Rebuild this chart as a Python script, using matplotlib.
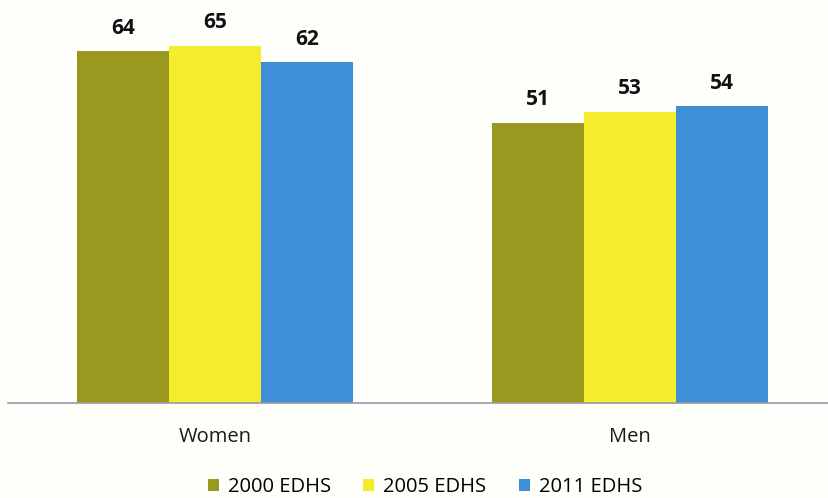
import matplotlib
matplotlib.use("Agg")
import matplotlib.pyplot as plt
from matplotlib.patches import Patch
import numpy as np

categories = ["Women", "Men"]
series_names = ["2000 EDHS", "2005 EDHS", "2011 EDHS"]
values_2000 = [64, 51]
values_2005 = [65, 53]
values_2011 = [62, 54]
series_values = [values_2000, values_2005, values_2011]
colors = ["#9a981f", "#f5ec2c", "#3d8fd7"]

plt.rcParams["font.family"] = ["Open Sans", "DejaVu Sans"]

fig = plt.figure(figsize=(8.29, 4.98), dpi=100, facecolor="#fefefb")
ax = fig.add_axes([8 / 829, 95 / 498, 1 - 8 / 829, 403 / 498])
ax.set_facecolor("#fefefb")

x = np.arange(len(categories))
width = 0.2217
for i, (vals, col) in enumerate(zip(series_values, colors)):
    pos = x + (i - 1) * width
    bars = ax.bar(pos, vals, width=width, color=col, edgecolor="none", zorder=2)
    for b, v in zip(bars, vals):
        ax.annotate(f"{v}", (b.get_x() + b.get_width() / 2, v),
                    xytext=(0, 9), textcoords="offset points",
                    ha="center", va="bottom", fontsize=15, fontweight="bold",
                    color="#111111")

ax.set_xlim(-0.499, 1.48)
ax.set_ylim(0, 73.3)
ax.set_yticks([])
ax.set_xticks(x)
ax.set_xticklabels(categories, fontsize=14.5, color="#1a1a1a")
ax.tick_params(axis="x", length=0, pad=17)
for s in ["top", "right", "left"]:
    ax.spines[s].set_visible(False)
ax.spines["bottom"].set_color("#9a9aa8")
ax.spines["bottom"].set_linewidth(1.2)

handles = [Patch(facecolor=c, edgecolor="none") for c in colors]
fig.legend(handles, series_names, loc="center", bbox_to_anchor=(425 / 829, 11 / 498),
           ncol=3, frameon=False, fontsize=14.5, handlelength=0.55, handleheight=0.55,
           handletextpad=0.45, columnspacing=1.6, borderaxespad=0)

fig.savefig("out.png", dpi=100, facecolor=fig.get_facecolor())
